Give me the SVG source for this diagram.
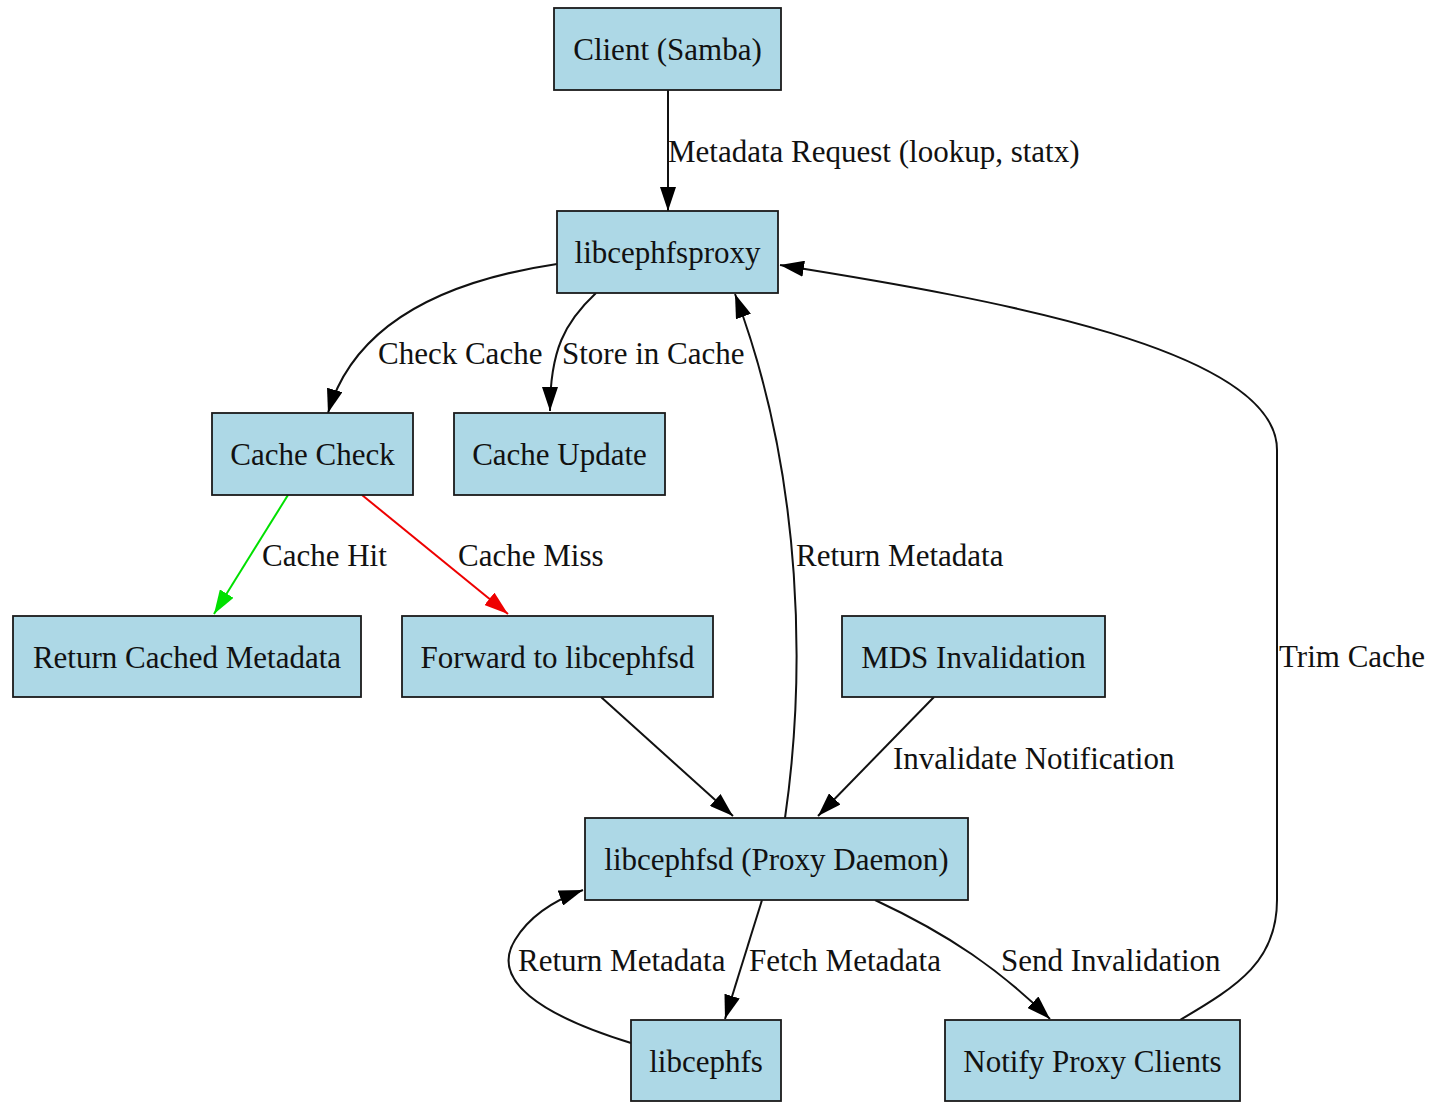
<svg xmlns="http://www.w3.org/2000/svg" width="1435" height="1102" viewBox="0 0 1435 1102">
<defs>
<style>
.node rect{fill:#add8e6;stroke:#1a1a1a;stroke-width:1.8}
.node text{font-family:"Liberation Serif","Times New Roman",serif;font-size:31px;fill:#111;text-anchor:middle}
.lbl{font-family:"Liberation Serif","Times New Roman",serif;font-size:31px;fill:#111}
.e{fill:none;stroke:#111;stroke-width:2}
</style>
<marker id="ab" viewBox="0 0 24 16" refX="24" refY="8" markerWidth="24" markerHeight="16" markerUnits="userSpaceOnUse" orient="auto"><path d="M0,0 L24,8 L0,16 z" fill="#000"/></marker>
<marker id="ag" viewBox="0 0 24 16" refX="24" refY="8" markerWidth="24" markerHeight="16" markerUnits="userSpaceOnUse" orient="auto"><path d="M0,0 L24,8 L0,16 z" fill="#00e000"/></marker>
<marker id="ar" viewBox="0 0 24 16" refX="24" refY="8" markerWidth="24" markerHeight="16" markerUnits="userSpaceOnUse" orient="auto"><path d="M0,0 L24,8 L0,16 z" fill="#ee0000"/></marker>
</defs>
<rect width="1435" height="1102" fill="#fff"/>
<g id="edges">
<path class="e" d="M668,90 L668,211" marker-end="url(#ab)"/>
<text class="lbl" x="668" y="162">Metadata Request (lookup, statx)</text>
<path class="e" d="M557,264 C450,280 355,320 328,413" marker-end="url(#ab)"/>
<text class="lbl" x="378" y="364">Check Cache</text>
<path class="e" d="M596,293 C565,322 550,350 550,411" marker-end="url(#ab)"/>
<text class="lbl" x="562" y="364">Store in Cache</text>
<path class="e" d="M288,495 L214,614" style="stroke:#00e000" marker-end="url(#ag)"/>
<text class="lbl" x="262" y="566">Cache Hit</text>
<path class="e" d="M362,495 L508,614" style="stroke:#ee0000" marker-end="url(#ar)"/>
<text class="lbl" x="458" y="566">Cache Miss</text>
<path class="e" d="M601,697 L733,816" marker-end="url(#ab)"/>
<path class="e" d="M934,697 L818,816" marker-end="url(#ab)"/>
<text class="lbl" x="893" y="769">Invalidate Notification</text>
<path class="e" d="M785,818 C805,680 805,480 735,294" marker-end="url(#ab)"/>
<text class="lbl" x="796" y="566">Return Metadata</text>
<path class="e" d="M762,900 L725,1019" marker-end="url(#ab)"/>
<text class="lbl" x="749" y="971">Fetch Metadata</text>
<path class="e" d="M631,1043 C540,1015 490,980 515,940 C530,915 555,900 583,890" marker-end="url(#ab)"/>
<text class="lbl" x="518" y="971">Return Metadata</text>
<path class="e" d="M875,900 C950,935 1000,970 1050,1019" marker-end="url(#ab)"/>
<text class="lbl" x="1001" y="971">Send Invalidation</text>
<path class="e" d="M1180,1020 C1240,985 1277,960 1277,900 L1277,450 C1277,350 1000,300 780,265" marker-end="url(#ab)"/>
<text class="lbl" x="1279" y="667">Trim Cache</text>
</g>
<g id="client" class="node"><rect x="554" y="8" width="227" height="82"/><text x="667.5" y="60">Client (Samba)</text></g>
<g id="libcephfsproxy" class="node"><rect x="557" y="211" width="221" height="82"/><text x="667.5" y="263">libcephfsproxy</text></g>
<g id="cache_check" class="node"><rect x="212" y="413" width="201" height="82"/><text x="312.5" y="465">Cache Check</text></g>
<g id="cache_update" class="node"><rect x="454" y="413" width="211" height="82"/><text x="559.5" y="465">Cache Update</text></g>
<g id="return_cached" class="node"><rect x="13" y="616" width="348" height="81"/><text x="187" y="668">Return Cached Metadata</text></g>
<g id="forward" class="node"><rect x="402" y="616" width="311" height="81"/><text x="557.5" y="668">Forward to libcephfsd</text></g>
<g id="mds" class="node"><rect x="842" y="616" width="263" height="81"/><text x="973.5" y="668">MDS Invalidation</text></g>
<g id="libcephfsd" class="node"><rect x="585" y="818" width="383" height="82"/><text x="776.5" y="870">libcephfsd (Proxy Daemon)</text></g>
<g id="libcephfs" class="node"><rect x="631" y="1020" width="150" height="81"/><text x="706" y="1072">libcephfs</text></g>
<g id="notify" class="node"><rect x="945" y="1020" width="295" height="81"/><text x="1092.5" y="1072">Notify Proxy Clients</text></g>
</svg>
